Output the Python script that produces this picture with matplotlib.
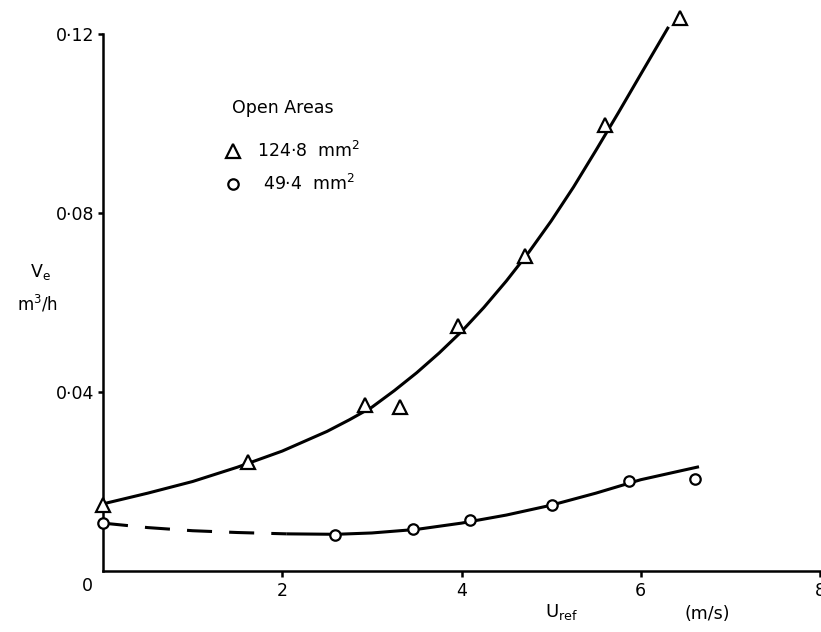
import matplotlib
matplotlib.use("Agg")
import matplotlib.pyplot as plt
from matplotlib.lines import Line2D

# ==========================================
# data
# ==========================================
# open area 124.8 mm2 (triangles)
u_tri = [0.0, 1.62, 2.92, 3.31, 3.96, 4.71, 5.60, 6.44]
v_tri = [0.0147, 0.0244, 0.0371, 0.0366, 0.0547, 0.0704, 0.0997, 0.1236]

# open area 49.4 mm2 (circles)
u_circ = [0.0, 2.59, 3.46, 4.10, 5.01, 5.87, 6.61]
v_circ = [0.0107, 0.0080, 0.0094, 0.0114, 0.0147, 0.0201, 0.0206]

# hand drawn curves (points along the drawn lines)
curve_u_tri = [0.0, 0.5, 1.0, 1.5, 2.0, 2.5, 2.75, 3.0, 3.25, 3.5, 3.75, 4.0,
               4.25, 4.5, 4.75, 5.0, 5.25, 5.5, 5.75, 6.0, 6.31]
curve_v_tri = [0.0150, 0.0174, 0.0200, 0.0232, 0.0268, 0.0312, 0.0338, 0.0366,
               0.0403, 0.0443, 0.0487, 0.0535, 0.0589, 0.0648, 0.0712, 0.0782,
               0.0858, 0.0940, 0.1024, 0.1110, 0.1216]

dash_u_circ = [0.0, 0.5, 1.0, 1.5, 2.05]
dash_v_circ = [0.0107, 0.0097, 0.0090, 0.0086, 0.0083]
curve_u_circ = [2.05, 2.6, 3.0, 3.5, 4.0, 4.5, 5.0, 5.5, 6.0, 6.65]
curve_v_circ = [0.0083, 0.0082, 0.0085, 0.0093, 0.0107, 0.0125, 0.0147, 0.0174, 0.0204, 0.0233]

x_ticks = [2, 4, 6, 8]
x_tick_labels = ["2", "4", "6", "8"]
y_ticks = [0.04, 0.08, 0.12]
y_tick_labels = ["0·04", "0·08", "0·12"]

legend_title = "Open Areas"
legend_labels = ["124·8  mm$^2$", "\u2009\u200949·4  mm$^2$"]

# ==========================================
# figure
# ==========================================
plt.rcParams["font.family"] = ["DejaVu Sans"]
plt.rcParams["mathtext.default"] = "regular"

W, H = 821, 632
fig = plt.figure(figsize=(W / 100, H / 100), dpi=100)
ax = fig.add_axes([103 / W, 1 - 571 / H, 717 / W, 537 / H])

lw = 2.2
ax.plot(curve_u_tri, curve_v_tri, color="black", lw=lw, clip_on=False,
        solid_capstyle="butt", zorder=2)
ax.plot(curve_u_circ, curve_v_circ, color="black", lw=lw, clip_on=False,
        solid_capstyle="butt", zorder=2)
ax.plot(dash_u_circ, dash_v_circ, color="black", lw=lw, clip_on=False,
        dashes=(8.2, 5.6), dash_capstyle="butt", zorder=2)

ax.plot(u_tri, v_tri, linestyle="none", marker="^", ms=9.5, mfc="white",
        mec="black", mew=1.6, clip_on=False, zorder=3)
ax.plot(u_circ, v_circ, linestyle="none", marker="o", ms=7.5, mfc="white",
        mec="black", mew=1.6, clip_on=False, zorder=3)

ax.set_xlim(0, 8)
ax.set_ylim(0, 0.12)

for side in ["top", "right"]:
    ax.spines[side].set_visible(False)
for side in ["left", "bottom"]:
    ax.spines[side].set_linewidth(1.8)

ax.set_xticks(x_ticks)
ax.set_xticklabels(x_tick_labels)
ax.set_yticks(y_ticks)
ax.set_yticklabels(y_tick_labels)
ax.tick_params(axis="x", direction="out", length=4, width=1.8, labelsize=12.5, pad=4)
ax.tick_params(axis="y", direction="out", length=3.5, width=1.8, labelsize=12.5, pad=3)

# origin label
ax.annotate("0", xy=(0, 0), xytext=(-11.5, -11), textcoords="offset points",
            ha="center", va="center", fontsize=12.5)

# axis titles
fig.text(40 / W, 1 - 272 / H, r"$\mathregular{V_e}$", ha="center", va="center", fontsize=12.5)
fig.text(38 / W, 1 - 304 / H, r"$\mathregular{m^3/h}$", ha="center", va="center", fontsize=12)
fig.text(562 / W, 1 - 612 / H, r"$\mathregular{U_{ref}}$", ha="center", va="center", fontsize=13)
fig.text(707 / W, 1 - 614 / H, "(m/s)", ha="center", va="center", fontsize=12.5)

# legend
fig.text(232 / W, 1 - 108 / H, legend_title, ha="left", va="center", fontsize=12.5)
handles = [
    Line2D([], [], linestyle="none", marker="^", ms=9.5, mfc="white", mec="black", mew=1.6),
    Line2D([], [], linestyle="none", marker="o", ms=7.5, mfc="white", mec="black", mew=1.6),
]
leg = ax.legend(handles, legend_labels, frameon=False,
                loc="upper left", bbox_to_anchor=(224 / W, 1 - 141 / H),
                bbox_transform=fig.transFigure, fontsize=12.5,
                handlelength=1.0, handletextpad=0.9, labelspacing=0.75,
                borderpad=0, borderaxespad=0, alignment="left")

fig.savefig("out.png", dpi=100)
